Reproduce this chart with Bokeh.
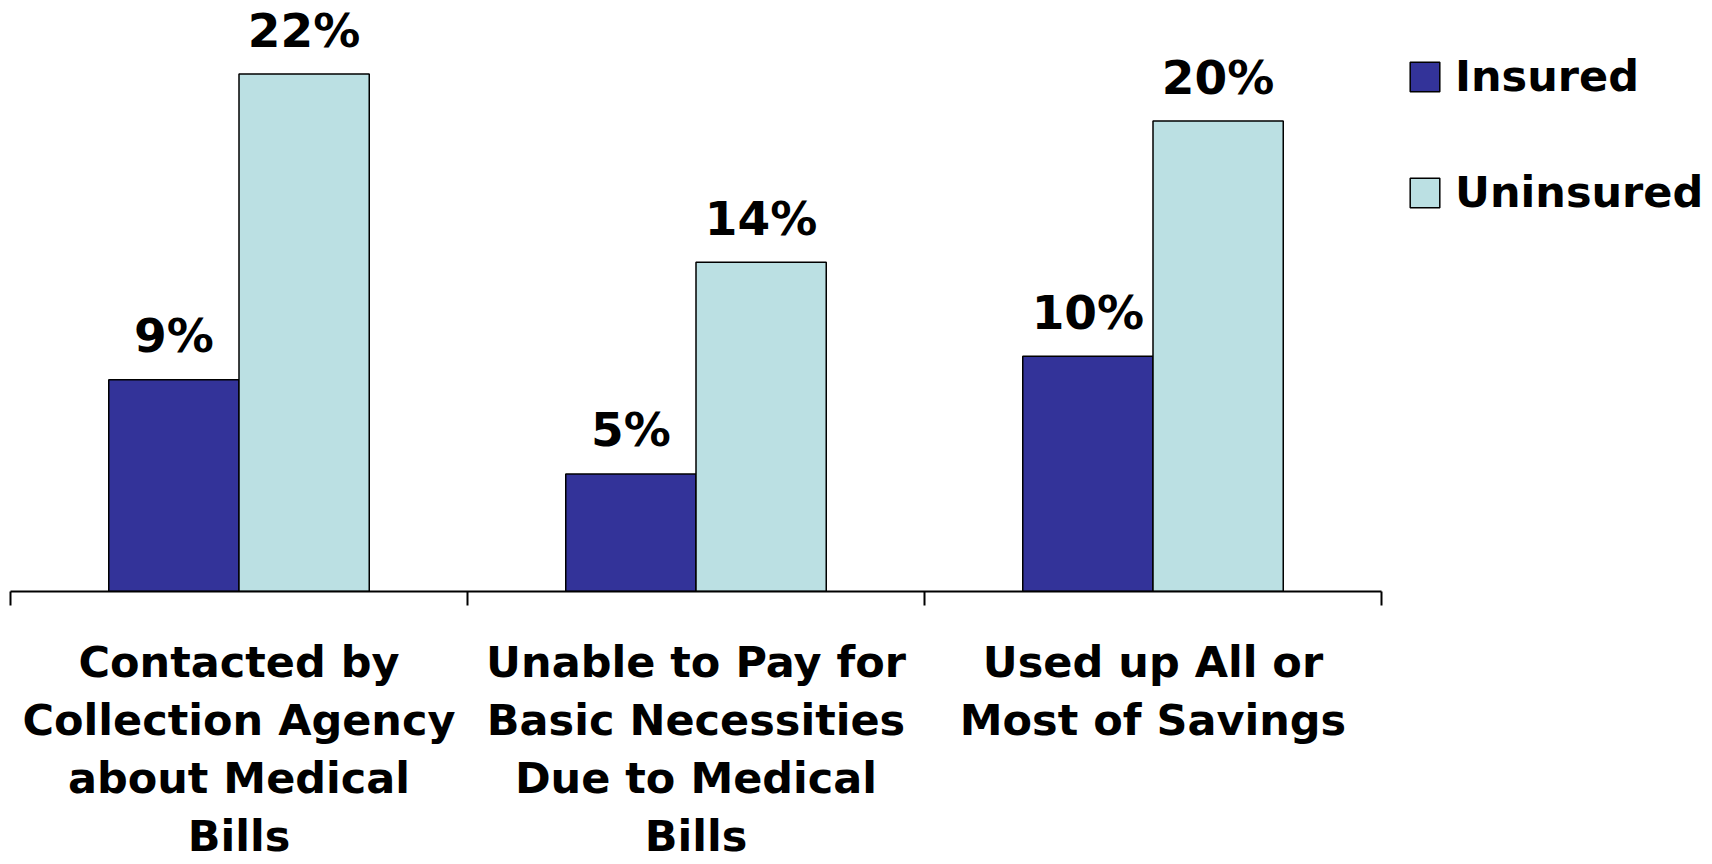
from bokeh.plotting import figure
from bokeh.models import (Range1d, FixedTicker, Legend, LegendItem, ColumnDataSource)
from bokeh.embed import file_html
from bokeh.resources import INLINE
from bokeh.core.properties import value

categories = ["Contacted by\nCollection Agency\nabout Medical\nBills",
              "Unable to Pay for\nBasic Necessities\nDue to Medical\nBills",
              "Used up All or\nMost of Savings"]
insured = [9, 5, 10]
uninsured = [22, 14, 20]
series_names = ["Insured", "Uninsured"]
colors = ["#333399", "#BBE0E3"]

FONT = "DejaVu Sans"
W, H = 1712, 864
left, right_b, top_b, bottom_b = 10, 0, 3, 271
frame_w = W - left - right_b
cat_px = 457.0
x_end = frame_w / cat_px

p = figure(width=W, height=H, output_backend="svg", toolbar_location=None,
           x_range=Range1d(0, x_end), y_range=Range1d(0, 25),
           y_axis_location=None, min_border_left=left, min_border_right=right_b,
           min_border_top=top_b, min_border_bottom=bottom_b)
p.outline_line_color = None
p.xgrid.visible = False
p.ygrid.visible = False
p.background_fill_color = "white"
p.border_fill_color = "white"

n = len(categories)
bw = 0.285
centers = [i + 0.5 for i in range(n)]
x_ins = [c - bw / 2 for c in centers]
x_unins = [c + bw / 2 for c in centers]

src_i = ColumnDataSource(dict(x=x_ins, top=insured, lab=[f"{v}%" for v in insured]))
src_u = ColumnDataSource(dict(x=x_unins, top=uninsured, lab=[f"{v}%" for v in uninsured]))

r1 = p.vbar(x="x", top="top", width=bw, bottom=0, source=src_i,
            fill_color=colors[0], line_color="black", line_width=1.5)
r2 = p.vbar(x="x", top="top", width=bw, bottom=0, source=src_u,
            fill_color=colors[1], line_color="black", line_width=1.5)

for s in (src_i, src_u):
    p.text(x="x", y="top", text="lab", source=s, text_align="center",
           text_baseline="alphabetic", y_offset=-44,
           text_font=value(FONT), text_font_style="bold",
           text_font_size="47px", text_color="black")

ax = p.xaxis[0]
ax.bounds = (0, n)
ax.ticker = FixedTicker(ticks=centers, minor_ticks=list(range(n + 1)))
ax.major_label_overrides = {c: lab for c, lab in zip(centers, categories)}
ax.major_tick_line_color = None
ax.major_tick_out = 0
ax.major_tick_in = 0
ax.minor_tick_line_color = "black"
ax.minor_tick_line_width = 2
ax.minor_tick_out = 14
ax.minor_tick_in = 0
ax.axis_line_color = "black"
ax.axis_line_width = 2
ax.major_label_standoff = 31
ax.major_label_text_font = FONT
ax.major_label_text_font_style = "bold"
ax.major_label_text_font_size = "43px"
ax.major_label_text_color = "black"
ax.major_label_text_line_height = 1.165
ax.major_label_orientation = "horizontal"

legend = Legend(items=[LegendItem(label=series_names[0], renderers=[r1]),
                       LegendItem(label=series_names[1], renderers=[r2])],
                location=(1396, 373), orientation="vertical",
                glyph_width=37, glyph_height=37, label_height=52,
                label_standoff=12, spacing=64, padding=0, margin=0,
                border_line_color=None, background_fill_alpha=0,
                label_text_font=FONT, label_text_font_style="bold",
                label_text_font_size="43px", label_text_color="black")
p.add_layout(legend, "center")

open("out.html", "w").write(file_html(p, INLINE))
